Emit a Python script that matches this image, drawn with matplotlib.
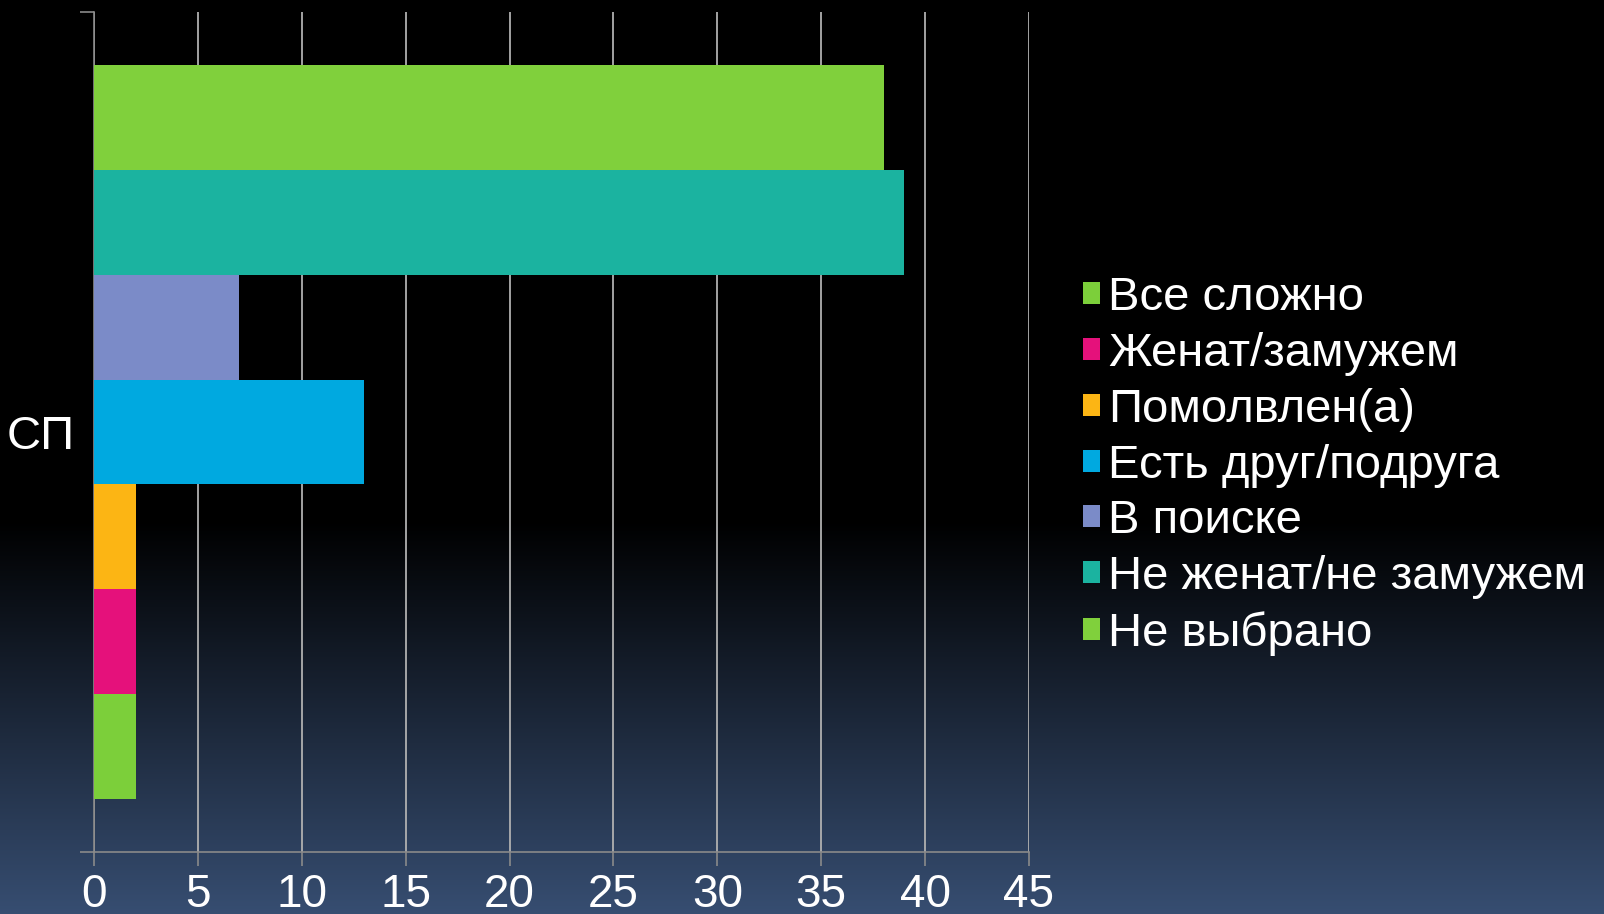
import numpy as np
import matplotlib.pyplot as plt
from matplotlib.patches import Patch

plt.rcParams['font.family'] = ['Liberation Sans', 'DejaVu Sans']

category = 'СП'
series = ['Все сложно', 'Женат/замужем', 'Помолвлен(а)', 'Есть друг/подруга',
          'В поиске', 'Не женат/не замужем', 'Не выбрано']
values = [2, 2, 2, 13, 7, 39, 38]
colors = ['#7CCF3A', '#E5117B', '#FCB514', '#00A9E0',
          '#7B8BC8', '#1BB3A0', '#80D03C']
xticks = list(range(0, 46, 5))

fig = plt.figure(figsize=(16.04, 9.14), dpi=100)

# background: black on top, fading to dark blue at the bottom
bg = fig.add_axes([0, 0, 1, 1], zorder=-10)
h = 914
t = np.clip((np.arange(h) - 520) / (h - 520), 0, 1)
bottom_col = np.array([0.215, 0.305, 0.445])
grad = t[:, None] * bottom_col[None, :]
bg.imshow(grad[:, None, :], aspect='auto', extent=[0, 1, 0, 1], origin='upper')
bg.axis('off')

ax = fig.add_axes([94 / 1604, 1 - 852 / 914, (1029 - 94) / 1604, (852 - 12) / 914])
ax.patch.set_alpha(0)

n = len(values)
ypos = np.arange(n)
for y, v, c, s in zip(ypos, values, colors, series):
    ax.barh(y, v, height=1.0, color=c, label=s, zorder=3)

pad = 0.51
ax.set_ylim(-0.5 - pad, n - 0.5 + pad)
ax.set_xlim(0, 45)
ax.set_xticks(xticks)
ax.set_xticklabels([str(x) for x in xticks], fontsize=33, color='white')
ax.tick_params(axis='x', length=10, width=1.2, color='#8a8a8a', pad=5, direction='out')

ax.set_yticks([(n - 1) / 2])
ax.set_yticklabels([category], fontsize=34, color='white')
ax.tick_params(axis='y', which='major', length=0, pad=14)
ax.set_yticks([-0.5 - pad, n - 0.5 + pad], minor=True)
ax.tick_params(axis='y', which='minor', length=10, width=1.2, color='#8a8a8a')

ax.grid(axis='x', color='#b0b0b0', linewidth=1.3, zorder=1)
for side in ['top', 'right']:
    ax.spines[side].set_visible(False)
ax.spines['left'].set_color('#8a8a8a')
ax.spines['bottom'].set_color('#8a8a8a')
ax.spines['left'].set_linewidth(1.2)
ax.spines['bottom'].set_linewidth(1.2)

handles = [Patch(facecolor=c, edgecolor='none') for c in colors]
leg = fig.legend(handles, series, loc='center left',
                 bbox_to_anchor=(1083 / 1604, 1 - 466 / 914),
                 fontsize=34, frameon=False, handlelength=0.36, handleheight=0.34,
                 handletextpad=0.17, labelspacing=0.25, borderpad=0, borderaxespad=0)
for txt in leg.get_texts():
    txt.set_color('white')

fig.savefig('out.png', dpi=100)
